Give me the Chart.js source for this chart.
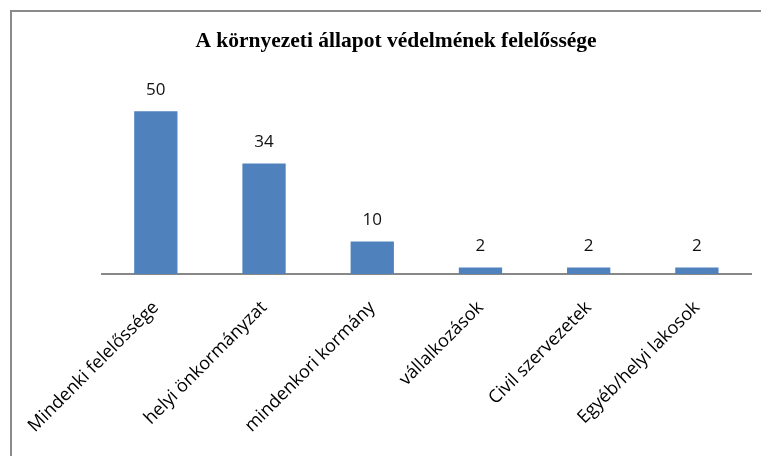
<!DOCTYPE html>
<html>
<head>
<meta charset="utf-8">
<script src="https://cdn.jsdelivr.net/npm/chart.js@4.4.0/dist/chart.umd.min.js"></script>
<style>
  html, body { margin: 0; padding: 0; background: #fff; overflow: hidden; }
  #wrap { position: relative; width: 761px; height: 456px; }
</style>
</head>
<body>
<div id="wrap"><canvas id="chart"></canvas></div>
<script>
// Chart data
const categories = [
  'Mindenki felelőssége',
  'helyi önkormányzat',
  'mindenkori kormány',
  'vállalkozások',
  'Civil szervezetek',
  'Egyéb/helyi lakosok'
];
const values = [50, 34, 10, 2, 2, 2];
const chartTitle = 'A környezeti állapot védelmének felelőssége';

// Gray frame around the chart (right and bottom edges fall outside the picture)
const framePlugin = {
  id: 'frame',
  beforeDraw(chart) {
    const c = chart.ctx;
    c.save();
    c.fillStyle = '#fff';
    c.fillRect(0, 0, chart.width, chart.height);
    c.strokeStyle = '#8a8a8a';
    c.lineWidth = 2;
    c.strokeRect(11, 11, chart.width + 20, chart.height + 20);
    c.restore();
  }
};

// Value labels above the bars
const valueLabels = {
  id: 'valueLabels',
  afterDatasetsDraw(chart) {
    const c = chart.ctx;
    const meta = chart.getDatasetMeta(0);
    c.save();
    c.font = '17px "Open Sans", sans-serif';
    c.fillStyle = '#111';
    c.textAlign = 'center';
    c.textBaseline = 'middle';
    meta.data.forEach(function(bar, i) {
      c.fillText(String(values[i]), bar.x, bar.y - 21);
    });
    c.restore();
  }
};

document.addEventListener('DOMContentLoaded', function() {
  const ctx = document.getElementById('chart').getContext('2d');
  new Chart(ctx, {
    type: 'bar',
    data: {
      labels: categories,
      datasets: [{
        data: values,
        backgroundColor: '#4F81BD',
        borderWidth: 0,
        categoryPercentage: 1.0,
        barPercentage: 0.4
      }]
    },
    options: {
      responsive: true,
      maintainAspectRatio: false,
      animation: false,
      layout: {
        padding: { left: 41, right: 10, top: 0, bottom: 0 }
      },
      plugins: {
        legend: { display: false },
        tooltip: { enabled: false },
        title: {
          display: true,
          text: chartTitle,
          color: '#000',
          font: { family: '"Liberation Serif", serif', size: 21.5, weight: 'bold' },
          padding: { top: 29, bottom: 24 }
        }
      },
      scales: {
        x: {
          grid: { display: false, drawTicks: false, tickLength: 0 },
          border: { display: true, color: '#888', width: 2 },
          ticks: {
            autoSkip: false,
            minRotation: 45,
            maxRotation: 45,
            padding: 23,
            color: '#000',
            font: { family: '"Open Sans", sans-serif', size: 18 }
          },
          afterFit(scale) { scale.height = 182; }
        },
        y: {
          display: true,
          min: 0,
          max: 60,
          grid: { display: false, drawTicks: false },
          border: { display: false },
          ticks: { display: false },
          afterFit(scale) { scale.width = 60; }
        }
      }
    },
    plugins: [framePlugin, valueLabels]
  });
});
</script>
</body>
</html>
